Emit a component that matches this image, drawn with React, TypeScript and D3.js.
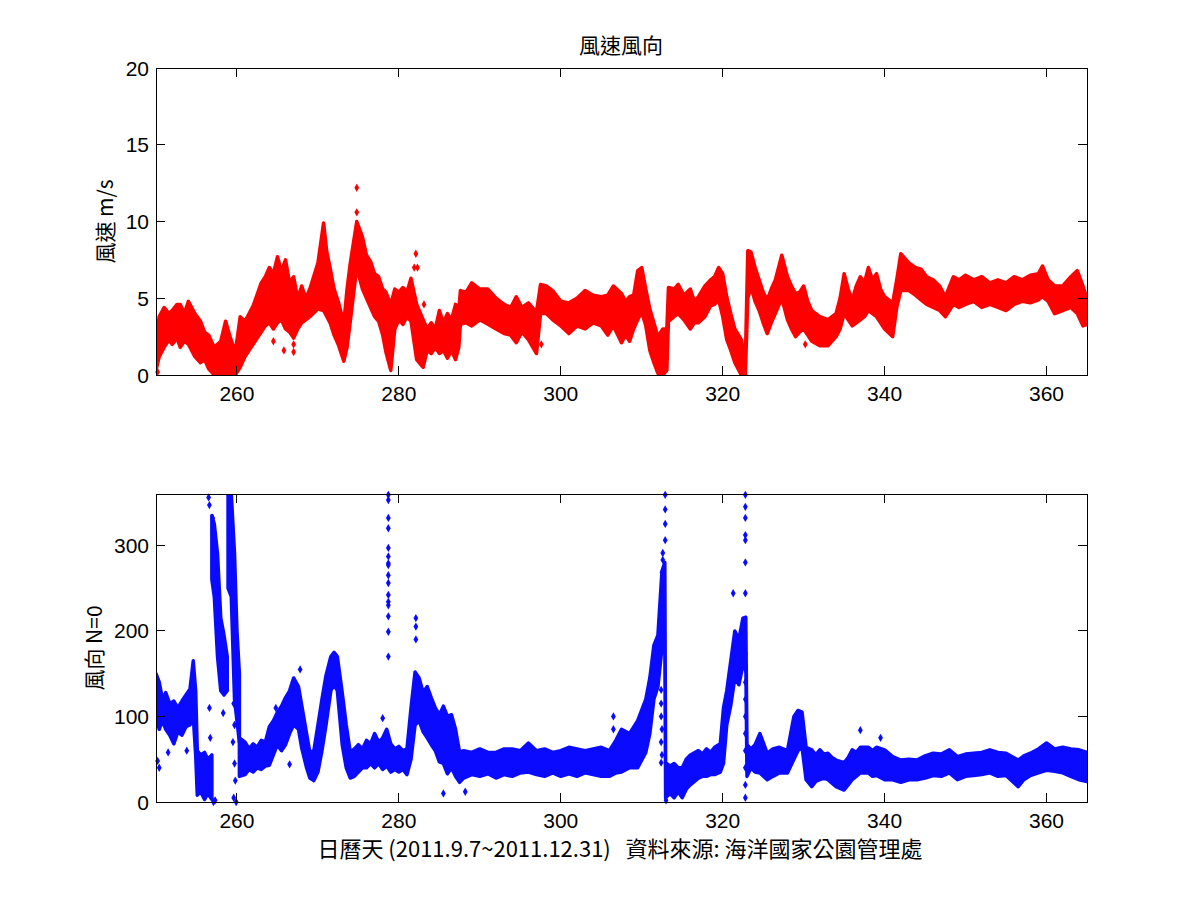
import * as d3 from "d3";

// 風速 band: [day, low, high] (m/s)
const speedBand: [number, number, number][] = [
  [250.0, 0.3, 2.4], [250.4, 1.2, 3.8], [251, 1.8, 4.4], [251.6, 2.3, 4.0],
  [252, 2.0, 4.2], [252.6, 2.4, 4.6], [253, 1.8, 4.6], [253.5, 2.2, 4.0],
  [254, 2.0, 4.8], [254.8, 1.2, 4.0], [255.5, 0.8, 3.5], [256, 1.0, 2.8],
  [256.5, 0.4, 2.6], [257.2, 0.0, 1.8], [258, 0.0, 2.2], [258.6, 0.2, 3.5],
  [259.2, 0.0, 2.4], [259.8, 0.0, 1.5], [260.4, 0.5, 3.8], [261, 1.2, 3.5],
  [262, 2.0, 4.5], [263, 2.8, 6.0], [263.5, 3.2, 6.4], [264, 3.4, 7.0],
  [264.5, 3.0, 6.6], [265, 3.4, 7.7], [265.5, 3.6, 6.8], [266, 3.0, 7.5],
  [266.5, 2.8, 6.0], [267, 2.4, 6.4], [267.5, 3.0, 5.0], [268, 3.4, 5.8],
  [268.5, 3.6, 5.0], [269, 3.8, 5.6], [270, 4.3, 7.3], [270.7, 4.2, 9.9],
  [271.1, 3.8, 8.0], [271.5, 3.4, 7.0], [272, 2.6, 5.6], [272.5, 2.0, 4.8],
  [273.2, 0.9, 3.4], [273.6, 1.8, 5.6], [274, 3.5, 7.3], [274.8, 7.0, 10.0],
  [275.5, 5.6, 9.0], [276, 5.0, 7.8], [276.5, 4.4, 7.4], [277, 3.8, 6.6],
  [277.5, 3.5, 6.4], [278, 2.6, 5.6], [278.4, 1.5, 5.4], [279, 0.3, 4.6],
  [279.5, 3.0, 5.6], [280, 3.6, 5.4], [280.5, 3.3, 5.7], [281, 3.8, 5.4],
  [281.5, 3.5, 6.3], [282.2, 1.0, 4.6], [283, 0.5, 3.6], [283.5, 1.6, 3.0],
  [284, 1.4, 3.4], [284.5, 1.8, 3.0], [285, 1.4, 4.2], [285.5, 1.6, 3.4],
  [286, 1.1, 4.0], [286.5, 1.6, 3.6], [287, 1.0, 4.6], [287.4, 1.8, 4.2],
  [287.6, 3.3, 5.5], [288.3, 3.4, 5.4], [289, 3.2, 6.0], [290, 3.6, 5.6],
  [291, 3.3, 5.6], [292, 3.0, 5.0], [293, 2.7, 4.6], [293.8, 2.6, 4.4],
  [294.5, 2.1, 5.1], [295.2, 2.8, 4.4], [296, 2.3, 4.7], [297, 1.4, 4.1],
  [297.5, 4.0, 5.9], [298.2, 4.0, 5.8], [299, 3.6, 5.5], [300, 3.2, 4.8],
  [301, 2.7, 4.7], [302, 3.2, 5.0], [303, 3.0, 5.5], [304, 3.4, 5.2],
  [305, 3.2, 5.1], [305.8, 2.6, 5.2], [306.5, 3.2, 5.8], [307.5, 2.1, 5.3],
  [308, 2.6, 4.8], [308.5, 2.2, 5.1], [309, 3.0, 5.2], [309.5, 3.6, 6.8],
  [310, 4.1, 7.0], [310.5, 3.2, 5.6], [311, 1.6, 4.3], [311.5, 0.8, 3.4],
  [312, 0.1, 2.5], [312.6, 0.0, 3.0], [313.1, 0.3, 3.0], [313.3, 3.5, 5.7],
  [314, 3.8, 5.6], [314.5, 4.0, 5.9], [315.2, 3.6, 5.2], [316, 3.0, 5.6],
  [316.5, 3.4, 4.8], [317, 3.4, 5.1], [317.8, 3.8, 5.8], [318.5, 4.5, 6.2],
  [319, 4.6, 6.4], [319.5, 4.9, 7.0], [320, 3.8, 6.6], [320.5, 2.3, 5.1],
  [321, 1.6, 4.0], [321.5, 0.8, 3.0], [322.3, 0.0, 2.3], [322.8, 0.0, 1.0],
  [323.1, 5.0, 8.1], [323.5, 5.7, 8.0], [324, 4.8, 7.0], [324.5, 4.2, 6.2],
  [325, 3.4, 5.4], [325.5, 2.7, 4.9], [326, 3.4, 5.6], [326.5, 4.0, 6.2],
  [327.3, 5.0, 7.8], [328, 3.6, 6.4], [328.5, 3.0, 5.8], [329, 2.5, 5.3],
  [329.5, 2.8, 5.4], [330, 3.0, 5.8], [330.5, 2.6, 4.8], [331, 2.2, 4.2],
  [332, 1.9, 3.8], [333, 1.9, 3.6], [334, 2.5, 4.0], [334.5, 3.0, 5.0],
  [335, 4.0, 6.6], [335.5, 3.6, 5.6], [336, 3.2, 4.9], [336.5, 3.4, 5.8],
  [337, 3.6, 6.4], [337.5, 3.8, 6.0], [338, 4.2, 7.0], [338.5, 4.0, 6.2],
  [339, 3.8, 6.6], [339.5, 3.4, 5.6], [340, 3.0, 5.1], [341, 2.5, 4.7],
  [341.5, 4.4, 6.2], [342, 5.5, 7.9], [343, 5.5, 7.3], [343.8, 5.2, 7.0],
  [344.5, 4.9, 6.9], [345.2, 4.6, 6.4], [346, 4.4, 6.2], [346.8, 4.2, 5.8],
  [347.5, 3.8, 5.1], [348.5, 4.6, 6.4], [349.2, 4.4, 6.2], [350, 4.6, 6.5],
  [351, 4.8, 6.2], [352, 4.4, 6.4], [353, 4.6, 6.0], [354, 4.4, 6.2],
  [355, 4.2, 6.0], [356, 4.6, 6.4], [357, 4.8, 6.2], [358, 4.7, 6.5],
  [359, 4.9, 6.6], [359.5, 5.1, 7.1], [360.2, 4.8, 6.2], [361, 4.0, 5.8],
  [362, 4.2, 5.8], [363, 4.4, 6.4], [363.8, 4.0, 6.8], [364.5, 3.2, 5.8],
  [365, 3.3, 5.0],
];

// 風速 isolated points: [day, m/s]
const speedPoints: [number, number][] = [
  [274.8, 12.2], [274.8, 10.6], [282.1, 7.9], [281.9, 7.0], [282.3, 7.0],
  [283.1, 4.6], [267, 1.5], [267, 2.0], [250.2, 0.2], [256.6, 1.5],
  [264.5, 2.2], [265.8, 1.6], [297.6, 2.0], [307.8, 2.6], [330.2, 2.0],
];

// 風向 main band, early part: [day, low, high] (deg)
const dirBandEarly: [number, number, number][] = [
  [250.0, 100, 150], [250.4, 85, 140], [250.8, 95, 120], [251.2, 85, 128],
  [251.7, 78, 115], [252.2, 68, 118], [252.7, 82, 110], [253.2, 78, 118],
  [253.7, 88, 125], [254.2, 90, 132], [254.6, 100, 165], [254.9, 55, 130],
  [255.1, 8, 60], [255.5, 12, 55], [256.0, 3, 58], [256.4, 10, 50],
  [256.9, 3, 55],
];

const dirColumnA: [number, number, number][] = [
  [256.9, 260, 335], [257.2, 240, 325], [257.6, 170, 290],
  [258.0, 130, 215], [258.4, 125, 195], [258.8, 130, 170],
];

const dirColumnB: [number, number, number][] = [
  [258.9, 250, 360], [259.3, 240, 360], [259.7, 120, 290],
  [260.0, 95, 200], [260.3, 70, 150],
];

const dirBand: [number, number, number][] = [
  [260.3, 30, 75], [261, 32, 70], [261.5, 38, 62], [262, 35, 68],
  [262.5, 40, 64], [263, 38, 72], [263.5, 42, 70], [264, 43, 88],
  [264.5, 55, 95], [265, 67, 105], [265.5, 60, 112], [266, 67, 122],
  [266.5, 80, 130], [267, 90, 145], [267.6, 85, 135], [268, 63, 113],
  [268.6, 40, 80], [269, 28, 58], [269.5, 25, 60], [270, 35, 90],
  [270.5, 60, 120], [271, 90, 148], [271.6, 130, 170], [272, 137, 175],
  [272.4, 130, 170], [273, 67, 128], [273.5, 40, 90], [274, 28, 58],
  [274.5, 30, 62], [275, 35, 67], [275.5, 40, 62], [276, 40, 72],
  [276.5, 45, 68], [277, 40, 80], [277.5, 45, 70], [278, 38, 75],
  [278.5, 42, 85], [279, 35, 68], [279.5, 38, 62], [280, 35, 65],
  [280.5, 38, 60], [281, 32, 62], [281.5, 50, 110], [282, 90, 152],
  [282.5, 95, 145], [283, 82, 128], [283.5, 75, 135], [284, 67, 122],
  [284.5, 60, 110], [285, 47, 102], [285.5, 45, 112], [286, 33, 100],
  [286.5, 40, 102], [287, 30, 85], [287.5, 23, 58], [288, 28, 60],
  [289, 32, 58], [290, 30, 62], [291, 33, 58], [292, 28, 58],
  [293, 32, 62], [294, 30, 62], [295, 34, 60], [296, 35, 69],
  [297, 32, 60], [298, 30, 62], [299, 34, 58], [300, 30, 60],
  [301, 33, 64], [302, 30, 62], [303, 34, 60], [304, 32, 62],
  [305, 30, 64], [306, 30, 60], [306.8, 34, 72], [307.5, 35, 85],
  [308.5, 40, 80], [309.5, 40, 95], [310.5, 58, 120], [311, 80, 145],
  [311.5, 120, 183], [312, 135, 195], [312.5, 180, 270], [312.85, 190, 280],
  [312.95, 5, 46], [313.5, 10, 42], [314, 5, 45], [314.5, 12, 40],
  [315, 5, 40], [315.5, 15, 50], [316, 20, 55], [317, 28, 60],
  [317.5, 30, 56], [318, 30, 62], [318.5, 32, 58], [319, 32, 64],
  [319.7, 35, 68], [320.1, 45, 110], [320.5, 90, 130], [321, 113, 165],
  [321.5, 145, 200], [322, 137, 190], [322.5, 160, 215], [322.85, 170, 216],
  [323, 30, 67], [323.5, 40, 62], [324, 35, 67], [324.6, 34, 80],
  [325.5, 26, 57], [326.2, 30, 62], [327, 34, 64], [328, 34, 60],
  [328.8, 50, 100], [329.3, 60, 107], [329.8, 64, 105], [330.3, 26, 64],
  [331, 18, 61], [331.5, 24, 55], [332, 26, 61], [332.5, 28, 56],
  [333, 26, 57], [333.5, 22, 52], [334, 18, 49], [335, 14, 46],
  [335.5, 20, 52], [336, 26, 61], [336.5, 30, 58], [337, 34, 64],
  [338, 34, 64], [338.5, 30, 60], [339, 31, 64], [340, 26, 61],
  [341, 26, 53], [342, 23, 49], [343, 26, 50], [344, 26, 49],
  [345, 28, 54], [346, 31, 57], [347, 30, 56], [348, 34, 61],
  [349, 26, 53], [350, 30, 56], [351, 31, 57], [352, 32, 58],
  [353, 34, 61], [354, 30, 58], [355, 31, 57], [356.5, 18, 49],
  [357.2, 26, 54], [358, 31, 57], [359, 34, 62], [360, 37, 69],
  [361, 36, 62], [362, 34, 64], [363, 30, 62], [364, 26, 61],
  [365, 24, 58],
];

// 風向 scattered points: [day, deg]
const dirPoints: [number, number][] = [
  [256.5, 356], [256.6, 347], [257.0, 332], [256.6, 110], [258.3, 104],
  [256.7, 75], [259.6, 115], [259.7, 90], [259.5, 70], [259.7, 45],
  [259.8, 25], [259.6, 5], [259.9, 0], [257.3, 2], [257.1, 0],
  [250.2, 48], [250.4, 40], [251.5, 58], [253.8, 60],
  [278.7, 359], [278.7, 353], [278.7, 332], [278.7, 320], [278.7, 297],
  [278.7, 287], [278.7, 279], [278.7, 277], [278.7, 265], [278.7, 256],
  [278.7, 242], [278.7, 234], [278.7, 230], [278.7, 217], [278.7, 199],
  [278.7, 170], [282.1, 215], [282.1, 205], [282.1, 190], [278.0, 98],
  [267.8, 155], [264.8, 110], [266.5, 44], [285.5, 10],
  [312.9, 359], [312.9, 342], [312.9, 325], [312.9, 306], [312.6, 291],
  [312.6, 283], [312.5, 268], [312.4, 131], [312.4, 115], [312.4, 100],
  [312.5, 85], [312.4, 70], [312.5, 55], [312.4, 46], [313.0, 2],
  [322.8, 359], [322.8, 345], [322.8, 332], [322.8, 312], [322.8, 306],
  [322.8, 280], [322.8, 244], [321.3, 244], [322.8, 174], [322.8, 155],
  [322.8, 140], [322.8, 120], [322.8, 100], [322.8, 80], [322.8, 60],
  [322.8, 40], [322.8, 20], [322.8, 5], [288.2, 12], [337, 84], [339.5, 75],
  [306.5, 100], [306.5, 85],
];

const dayTicks = [260, 280, 300, 320, 340, 360];
const speedTicks = [0, 5, 10, 15, 20];
const dirTicks = [0, 100, 200, 300];

const FONT = "'Liberation Sans', Arial, 'Noto Sans CJK TC', sans-serif";
const CJK = "'Noto Sans CJK TC', 'Liberation Sans', sans-serif";

const left = 156;
const right = 1087;
const x = d3.scaleLinear().domain([250, 365]).range([left, right]);
const ySpeed = d3.scaleLinear().domain([0, 20]).range([375, 68]);
const yDir = d3.scaleLinear().domain([0, 360]).range([802, 494]);

function Band({ data, y, color }: { data: [number, number, number][]; y: d3.ScaleLinear<number, number>; color: string }) {
  const area = d3
    .area<[number, number, number]>()
    .x((d) => x(d[0]))
    .y0((d) => y(d[1]))
    .y1((d) => y(d[2]))
    .curve(d3.curveLinear);
  return <path d={area(data) ?? ""} fill={color} stroke={color} strokeWidth={3.5} strokeLinejoin="round" />;
}

function Dots({ data, y, color }: { data: [number, number][]; y: d3.ScaleLinear<number, number>; color: string }) {
  const sym = d3.symbol().type(d3.symbolDiamond).size(20);
  return (
    <g>
      {data.map((d, i) => (
        <path key={i} d={sym() ?? ""} transform={`translate(${x(d[0])},${y(d[1])})`} fill={color} />
      ))}
    </g>
  );
}

function Frame({ y, ticks }: { y: d3.ScaleLinear<number, number>; ticks: number[] }) {
  const [bottom, top] = y.range();
  const tl = 9;
  return (
    <g stroke="#000" strokeWidth={1} fill="none" shapeRendering="crispEdges">
      <rect x={left} y={top} width={right - left} height={bottom - top} />
      {dayTicks.map((t) => (
        <g key={t}>
          <line x1={x(t)} x2={x(t)} y1={bottom} y2={bottom - tl} />
          <line x1={x(t)} x2={x(t)} y1={top} y2={top + tl} />
        </g>
      ))}
      {ticks.map((t) => (
        <g key={t}>
          <line x1={left} x2={left + tl} y1={y(t)} y2={y(t)} />
          <line x1={right} x2={right - tl} y1={y(t)} y2={y(t)} />
        </g>
      ))}
    </g>
  );
}

function TickLabels({ y, ticks }: { y: d3.ScaleLinear<number, number>; ticks: number[] }) {
  const [bottom] = y.range();
  return (
    <g fontFamily={FONT} fontSize={21} fill="#000">
      {dayTicks.map((t) => (
        <text key={t} x={x(t)} y={bottom + 26} textAnchor="middle">{t}</text>
      ))}
      {ticks.map((t) => (
        <text key={t} x={left - 7} y={y(t) + 7.5} textAnchor="end">{t}</text>
      ))}
    </g>
  );
}

export default function App() {
  const red = "#ff0000";
  const blue = "#0a0aff";
  return (
    <svg width={1201} height={901} style={{ position: "absolute", left: 0, top: 0, background: "#fff" }}>
      <rect width={1201} height={901} fill="#fff" />
      <defs>
        <clipPath id="c1"><rect x={left} y={68} width={right - left} height={307} /></clipPath>
        <clipPath id="c2"><rect x={left} y={494} width={right - left} height={308} /></clipPath>
      </defs>
      <g clipPath="url(#c1)">
        <Band data={speedBand} y={ySpeed} color={red} />
      </g>
      <Dots data={speedPoints} y={ySpeed} color={red} />
      <g clipPath="url(#c2)">
        <Band data={dirBandEarly} y={yDir} color={blue} />
        <Band data={dirColumnA} y={yDir} color={blue} />
        <Band data={dirColumnB} y={yDir} color={blue} />
        <Band data={dirBand} y={yDir} color={blue} />
      </g>
      <Dots data={dirPoints} y={yDir} color={blue} />
      <Frame y={ySpeed} ticks={speedTicks} />
      <Frame y={yDir} ticks={dirTicks} />
      <TickLabels y={ySpeed} ticks={speedTicks} />
      <TickLabels y={yDir} ticks={dirTicks} />
      <text x={621} y={53} textAnchor="middle" fontFamily={CJK} fontSize={21}>風速風向</text>
      <text transform={`translate(113,${ySpeed(10)}) rotate(-90)`} textAnchor="middle" fontFamily={CJK} fontSize={21}>風速 m/s</text>
      <text transform={`translate(102,${yDir(180)}) rotate(-90)`} textAnchor="middle" fontFamily={CJK} fontSize={21}>風向 N=0</text>
      <text x={620} y={857} textAnchor="middle" fontFamily={CJK} fontSize={22} xmlSpace="preserve">日曆天 (2011.9.7~2011.12.31)   資料來源: 海洋國家公園管理處</text>
    </svg>
  );
}
